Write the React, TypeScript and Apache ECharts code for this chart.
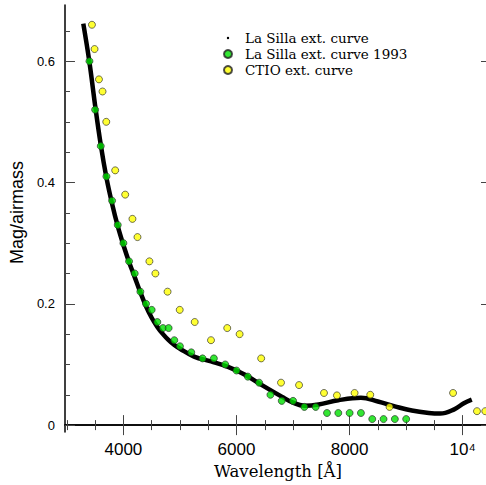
import React, { useEffect, useRef } from "react";
import * as echarts from "echarts";

// La Silla extinction curve (smooth fit), [wavelength Å, mag/airmass]
const laSillaWave = [3291, 3400, 3500, 3600, 3700, 3800, 3900, 4000, 4100, 4200, 4300, 4400, 4500, 4600, 4700, 4800, 4900, 5000, 5250, 5550, 5850, 6150, 6450, 6800, 7000, 7200, 7450, 7800, 8200, 8500, 8800, 9100, 9400, 9600, 9850, 10020, 10160];
const laSillaExt = [0.662, 0.598, 0.527, 0.462, 0.408, 0.365, 0.328, 0.297, 0.269, 0.244, 0.219, 0.196, 0.177, 0.162, 0.150, 0.140, 0.132, 0.126, 0.113, 0.105, 0.096, 0.083, 0.066, 0.047, 0.037, 0.032, 0.034, 0.041, 0.045, 0.039, 0.031, 0.024, 0.020, 0.019, 0.026, 0.036, 0.042];

// La Silla 1993
const ls93Wave = [3400, 3500, 3600, 3700, 3800, 3900, 4000, 4100, 4200, 4300, 4400, 4500, 4600, 4700, 4800, 4900, 5000, 5200, 5400, 5600, 5800, 6000, 6200, 6400, 6600, 6800, 7000, 7200, 7400, 7600, 7800, 8000, 8200, 8400, 8600, 8800, 9000];
const ls93Ext = [0.60, 0.52, 0.46, 0.41, 0.37, 0.33, 0.30, 0.27, 0.25, 0.22, 0.20, 0.19, 0.17, 0.16, 0.16, 0.14, 0.13, 0.12, 0.11, 0.11, 0.10, 0.09, 0.08, 0.07, 0.05, 0.04, 0.04, 0.03, 0.03, 0.02, 0.02, 0.02, 0.02, 0.01, 0.01, 0.01, 0.01];

// CTIO
const ctioWave = [3444, 3490, 3568, 3631, 3697, 3855, 4032, 4160, 4249, 4460, 4566, 4781, 4996, 5261, 5549, 5836, 6055, 6436, 6787, 7106, 7547, 7776, 8088, 8365, 8706, 9829, 10252, 10399];
const ctioExt = [0.66, 0.62, 0.57, 0.55, 0.50, 0.42, 0.38, 0.34, 0.31, 0.27, 0.25, 0.22, 0.19, 0.17, 0.14, 0.16, 0.15, 0.11, 0.07, 0.066, 0.053, 0.049, 0.053, 0.050, 0.030, 0.053, 0.023, 0.023];

const xMajorTicks = [4000, 6000, 8000, 10000];
const xMinorTicks = [3000, 3500, 4000, 4500, 5000, 5500, 6000, 6500, 7000, 7500, 8000, 8500, 9000, 9500, 10000, 10500];
const yMajorTicks = [0, 0.2, 0.4, 0.6];
const yMinorTicks = [0, 0.05, 0.1, 0.15, 0.2, 0.25, 0.3, 0.35, 0.4, 0.45, 0.5, 0.55, 0.6, 0.65];

const X_MIN = 2967;
const X_MAX = 10500;
const Y_MIN = -0.0115;
const Y_MAX = 0.6926;

const zip = (a: number[], b: number[]) => a.map((v, i) => [v, b[i]]);

export default function App() {
  const ref = useRef<HTMLDivElement>(null);
  useEffect(() => {
    document.documentElement.style.overflow = "hidden";
    document.body.style.overflow = "hidden";
    const chart = echarts.init(ref.current!, null, { renderer: "svg" });
    const tickColor = "#444";
    const mkX = (pos: string, ticks: number[], len: number, main: boolean, labels: boolean): any => ({
      type: "value",
      position: pos,
      min: X_MIN,
      max: X_MAX,
      axisLine: { show: main, lineStyle: { color: "#000", width: 1.5 } },
      axisTick: { show: true, inside: true, length: len, customValues: ticks, lineStyle: { color: tickColor, width: 1 } },
      axisLabel: labels
        ? {
            show: true,
            customValues: xMajorTicks,
            margin: 9,
            color: "#000",
            fontFamily: "Liberation Sans",
            fontSize: 17,
            formatter: (v: number) => (v === 10000 ? "10⁴" : String(v)),
          }
        : { show: false },
      splitLine: { show: false },
      ...(labels
        ? {
            name: "Wavelength [Å]",
            nameLocation: "middle",
            nameGap: 27,
            nameTextStyle: { fontFamily: "DejaVu Serif", fontSize: 16.5, color: "#000" },
          }
        : {}),
    });
    const mkY = (pos: string, ticks: number[], len: number, main: boolean, labels: boolean): any => ({
      type: "value",
      position: pos,
      min: Y_MIN,
      max: Y_MAX,
      axisLine: { show: main, lineStyle: { color: "#000", width: 1.5 } },
      axisTick: { show: true, inside: true, length: len, customValues: ticks, lineStyle: { color: tickColor, width: 1 } },
      axisLabel: labels
        ? {
            show: true,
            customValues: yMajorTicks,
            margin: 10,
            color: "#000",
            fontFamily: "Liberation Sans",
            fontSize: 13,
            formatter: (v: number) => String(Math.round(v * 10) / 10),
          }
        : { show: false },
      splitLine: { show: false },
      ...(labels
        ? {
            name: "Mag/airmass",
            nameLocation: "middle",
            nameGap: 30,
            nameTextStyle: { fontFamily: "Liberation Sans", fontSize: 18, color: "#000", padding: [0, 0, 0, 12] },
          }
        : {}),
    });

    chart.setOption({
      animation: false,
      grid: { left: 63, top: 5, width: 428, height: 428, containLabel: false },
      xAxis: [
        mkX("bottom", xMajorTicks, 10, true, true),
        mkX("bottom", xMinorTicks, 5, false, false),
        mkX("top", xMajorTicks, 10, true, false),
        mkX("top", xMinorTicks, 5, false, false),
      ],
      yAxis: [
        mkY("left", yMajorTicks, 10, true, true),
        mkY("left", yMinorTicks, 5, false, false),
        mkY("right", yMajorTicks, 10, true, false),
        mkY("right", yMinorTicks, 5, false, false),
      ],
      legend: {
        orient: "vertical",
        left: 223,
        top: 31,
        padding: 0,
        itemGap: 2,
        itemWidth: 8,
        itemHeight: 8,
        textStyle: { fontFamily: "DejaVu Serif", fontSize: 13.5, color: "#000", lineHeight: 14, padding: [0, 0, 0, 8] },
        data: [
          { name: "La Silla ext. curve", icon: "path://M0,0 M10,10 M3.5,5 A1.5,1.5 0 1,0 6.5,5 A1.5,1.5 0 1,0 3.5,5 Z", itemStyle: { color: "#000", borderWidth: 0 } },
          { name: "La Silla ext. curve 1993", icon: "circle" },
          { name: "CTIO ext. curve", icon: "circle" },
        ],
      },
      series: [
        {
          name: "La Silla ext. curve",
          type: "line",
          xAxisIndex: 0,
          yAxisIndex: 0,
          data: zip(laSillaWave, laSillaExt),
          smooth: 0.4,
          showSymbol: false,
          symbol: "none",
          lineStyle: { color: "#000", width: 4.5 },
          itemStyle: { color: "#000" },
          z: 2,
        },
        {
          name: "La Silla ext. curve 1993",
          type: "scatter",
          xAxisIndex: 0,
          yAxisIndex: 0,
          data: zip(ls93Wave, ls93Ext),
          symbol: "circle",
          symbolSize: 7,
          itemStyle: { color: "#00e000", borderColor: "#222", borderWidth: 0.8 },
          z: 3,
        },
        {
          name: "CTIO ext. curve",
          type: "scatter",
          xAxisIndex: 0,
          yAxisIndex: 0,
          data: zip(ctioWave, ctioExt),
          symbol: "circle",
          symbolSize: 7,
          itemStyle: { color: "#ffff00", borderColor: "#222", borderWidth: 0.8 },
          z: 3,
        },
      ],
    });
    return () => chart.dispose();
  }, []);
  return (
    <div
      ref={ref}
      style={{ position: "fixed", left: 0, top: 0, width: 494, height: 485, background: "#fff" }}
    />
  );
}
